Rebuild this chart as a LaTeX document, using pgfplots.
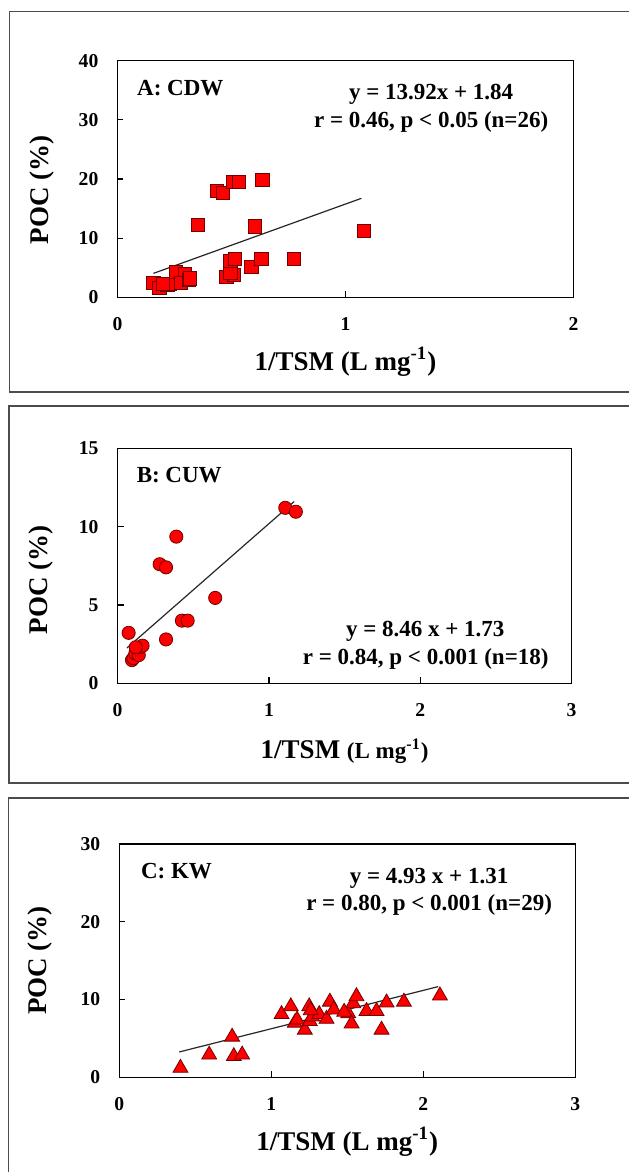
\documentclass[border=0pt]{standalone}
\usepackage{fontspec}
\setmainfont{Liberation Serif}
\usepackage{pgfplots}
\pgfplotsset{compat=1.18}

\tikzset{ann/.style={font=\bfseries\fontsize{11.5}{13}\selectfont, inner sep=0pt}}
\pgfplotsset{
  panel/.style={
    scale only axis, anchor=south west, clip=false,
    axis line style={black, line width=0.6pt},
    tick align=inside, xtick pos=bottom, ytick pos=left,
    major tick length=3pt,
    tick style={black, line width=0.6pt},
    /pgf/number format/assume math mode=true,
    tick label style={font=\bfseries\fontsize{9.8}{11}\selectfont},
    xticklabel style={yshift=-6.5pt},
    yticklabel style={xshift=-6pt},
    xlabel style={font=\bfseries\fontsize{13.5}{15}\selectfont, anchor=base},
    ylabel style={font=\bfseries\fontsize{13.5}{15}\selectfont, anchor=center},
    ylabel={POC (\%)},
  },
  sq/.style={only marks, mark=square*, mark size=3.3pt,
    mark options={fill=red, draw=red!45!black, line width=0.4pt}},
  ci/.style={only marks, mark=*, mark size=3.3pt,
    mark options={fill=red, draw=red!45!black, line width=0.4pt}},
  tr/.style={only marks, mark=triangle*, mark size=4.3pt,
    mark options={fill=red, draw=red!45!black, line width=0.4pt}},
  fit/.style={no marks, black!85, line width=0.6pt},
}

\begin{document}
\begin{tikzpicture}
\useasboundingbox (0,0) rectangle (314pt,586pt);
% outer frames
\draw[black!70, line width=0.9pt] (320pt,580.25pt) -- (4.75pt,580.25pt) -- (4.75pt,390pt) -- (320pt,390pt);
\draw[black!70, line width=0.9pt] (320pt,383.15pt) -- (4.5pt,383.15pt) -- (4.5pt,194.5pt) -- (320pt,194.5pt);
\draw[black!70, line width=0.9pt] (320pt,187pt) -- (4.25pt,187pt) -- (4.25pt,-5pt);

% ---------------- Panel A ----------------
\begin{axis}[panel, at={(58.7pt,437.35pt)}, width=228pt, height=118.3pt,
  xmin=0, xmax=2, ymin=0, ymax=40, xtick={0,1,2}, ytick={0,10,20,30,40},
  xlabel={1/TSM (L mg\textsuperscript{-1})},
  xlabel style={at={(axis description cs:0.5,0)}, yshift=-36.4pt},
  ylabel style={at={(axis description cs:-0.165,0.453)}}]
\addplot[fit] coordinates {(0.158,4.04) (1.07,16.73)};
\addplot[sq] coordinates {
(0.158,2.43) (0.184,1.58) (0.219,2.09) (0.228,2.3) (0.257,4.24)
(0.296,3.95) (0.277,2.43) (0.315,2.94) (0.318,3.2) (0.354,12.3)
(0.438,17.97) (0.461,17.63) (0.478,3.39) (0.511,3.84) (0.496,4.12)
(0.496,6.1) (0.515,6.5) (0.508,19.5) (0.534,19.5) (0.588,5.2)
(0.602,11.98) (0.632,6.5) (0.636,19.9) (0.773,6.5) (1.080,11.19)
(0.2,2.2)};
\node[ann, anchor=base west] at (axis cs:0.085,34.17) {A: CDW};
\node[ann, anchor=base] at (axis cs:1.376,33.45) {y = 13.92x + 1.84};
\node[ann, anchor=base] at (axis cs:1.376,28.72) {r = 0.46, p < 0.05 (n=26)};
\end{axis}

% ---------------- Panel B ----------------
\begin{axis}[panel, at={(58.8pt,244.35pt)}, width=227pt, height=117.5pt,
  xmin=0, xmax=3, ymin=0, ymax=15, xtick={0,1,2,3}, ytick={0,5,10,15},
  xlabel={1/TSM {\fontsize{11.5}{13}\selectfont (L mg\textsuperscript{-1})}},
  xlabel style={at={(axis description cs:0.5,0)}, yshift=-37.5pt},
  ylabel style={at={(axis description cs:-0.169,0.44)}}]
\addplot[fit] coordinates {(0.062,2.255) (1.167,11.603)};
\addplot[ci] coordinates {
(0.073,3.22) (0.095,1.48) (0.105,1.6) (0.117,1.9) (0.128,2.2)
(0.14,1.8) (0.15,2.3) (0.165,2.4) (0.12,2.3) (0.32,2.8)
(0.278,7.6) (0.32,7.4) (0.388,9.36) (0.425,4.0) (0.463,4.0)
(0.645,5.45) (1.108,11.2) (1.178,10.95)};
\node[ann, anchor=base west] at (axis cs:0.124,12.8) {B: CUW};
\node[ann, anchor=base] at (axis cs:2.033,2.97) {y = 8.46 x + 1.73};
\node[ann, anchor=base] at (axis cs:2.036,1.23) {r = 0.84, p < 0.001 (n=18)};
\end{axis}

% ---------------- Panel C ----------------
\begin{axis}[panel, at={(59.6pt,47.35pt)}, width=228pt, height=116.7pt,
  xmin=0, xmax=3, ymin=0, ymax=30, xtick={0,1,2,3}, ytick={0,10,20,30},
  xlabel={1/TSM (L mg\textsuperscript{-1})},
  xlabel style={at={(axis description cs:0.5,0)}, yshift=-36.4pt},
  ylabel style={at={(axis description cs:-0.174,0.5)}}]
\addplot[fit] coordinates {(0.395,3.257) (2.099,11.658)};
\addplot[tr] coordinates {
(0.403,1.2) (0.592,2.9) (0.743,5.2) (0.754,2.7) (0.809,2.9)
(1.068,8.1) (1.129,9.1) (1.155,7.0) (1.17,7.4) (1.221,6.1)
(1.25,9.1) (1.254,7.2) (1.27,7.8) (1.316,8.1) (1.364,7.5)
(1.386,9.7) (1.412,8.7) (1.507,8.2) (1.529,6.9) (1.54,9.5)
(1.561,10.4) (1.627,8.5) (1.693,8.5) (1.726,6.1) (1.759,9.6)
(1.873,9.7) (2.11,10.5) (1.48,8.4) (1.26,8.6)};
\node[ann, anchor=base west] at (axis cs:0.141,25.5) {C: KW};
\node[ann, anchor=base] at (axis cs:2.039,24.95) {y = 4.93 x + 1.31};
\node[ann, anchor=base] at (axis cs:2.039,21.38) {r = 0.80, p < 0.001 (n=29)};
\end{axis}
\end{tikzpicture}
\end{document}
